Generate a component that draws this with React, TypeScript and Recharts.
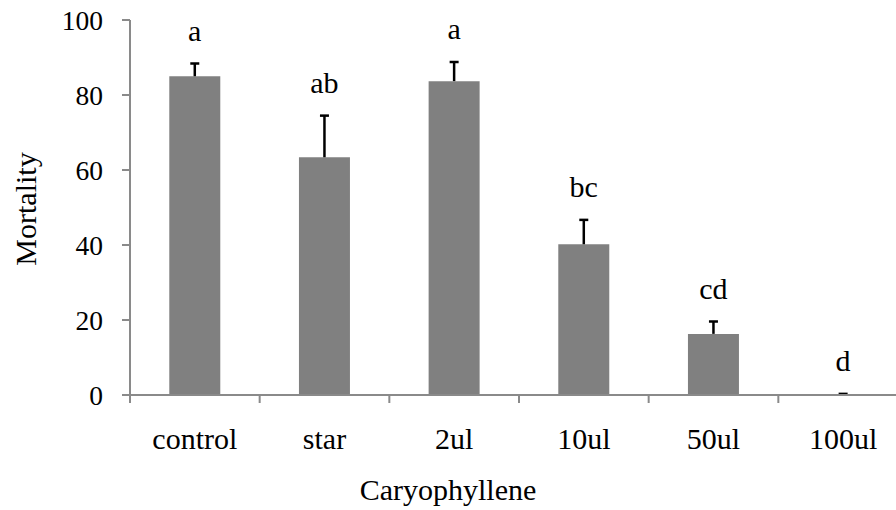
import React from 'react';
import { BarChart, Bar, XAxis, YAxis, LabelList } from 'recharts';

const doses = ['control', 'star', '2ul', '10ul', '50ul', '100ul'];
const mortality = [85, 63.4, 83.7, 40.2, 16.3, 0];
const stdErr = [3.4, 11.1, 5.1, 6.5, 3.3, 0.3];
const letters = ['a', 'ab', 'a', 'bc', 'cd', 'd'];
const yTicks = [0, 20, 40, 60, 80, 100];

const data = doses.map((dose, i) => ({
  dose,
  mortality: mortality[i],
  err: stdErr[i],
  letter: letters[i],
}));

const FONT = '"Liberation Serif", "Times New Roman", serif';
const AXIS_GREY = '#8a8a8a';

// upper-only error bar: stem from bar top plus a cap at the end
const ErrShape = (props: any) => {
  const { x, y, width, height } = props;
  const cx = x + width / 2;
  return (
    <g>
      <line x1={cx} y1={y + height} x2={cx} y2={y} stroke='#000' strokeWidth={2.5} />
      <line x1={cx - 4.5} y1={y} x2={cx + 4.5} y2={y} stroke='#000' strokeWidth={2.5} />
    </g>
  );
};

// category label plus Excel-style tick marks on the category boundaries
const DoseTick = (props: any) => {
  const { x, y, payload, index, visibleTicksCount } = props;
  const half = payload.offset || 0;
  const last = index === (visibleTicksCount ?? doses.length) - 1;
  return (
    <g>
      <line x1={x - half} y1={y} x2={x - half} y2={y + 8} stroke={AXIS_GREY} strokeWidth={2} />
      {last && (
        <line x1={x + half} y1={y} x2={x + half} y2={y + 8} stroke={AXIS_GREY} strokeWidth={2} />
      )}
      <text x={x} y={y + 54} textAnchor='middle' fill='#000' fontSize={30} fontFamily={FONT}>
        {payload.value}
      </text>
    </g>
  );
};

const App: React.FC = () => {
  return (
    <div
      style={{
        position: 'fixed',
        left: 0,
        top: 0,
        width: 896,
        height: 510,
        overflow: 'hidden',
        background: '#fff',
        fontFamily: FONT,
      }}
    >
      <BarChart
        width={910}
        height={510}
        data={data}
        margin={{ top: 20, right: 2, bottom: 0, left: 0 }}
        barCategoryGap='30.3%'
      >
        <XAxis
          dataKey='dose'
          height={115}
          axisLine={{ stroke: AXIS_GREY, strokeWidth: 2 }}
          tickLine={false}
          tickSize={0}
          tickMargin={0}
          tick={<DoseTick />}
          interval={0}
          label={{
            content: () => (
              <text
                x={448}
                y={500}
                textAnchor='middle'
                fill='#000'
                fontSize={30}
                fontFamily={FONT}
              >
                Caryophyllene
              </text>
            ),
          }}
        />
        <YAxis
          width={130}
          domain={[0, 100]}
          ticks={yTicks}
          interval={0}
          tickSize={8}
          tickMargin={19}
          axisLine={{ stroke: AXIS_GREY, strokeWidth: 2 }}
          tickLine={{ stroke: AXIS_GREY, strokeWidth: 2 }}
          tick={{ fill: '#000', fontSize: 27.5, fontFamily: FONT }}
          label={{
            content: ({ viewBox }: any) => {
              const cy = viewBox.y + viewBox.height / 2 + 1.5;
              return (
                <text
                  x={25}
                  y={cy}
                  transform={`rotate(-90, 25, ${cy})`}
                  textAnchor='middle'
                  dominantBaseline='central'
                  fill='#000'
                  fontSize={30}
                  fontFamily={FONT}
                >
                  Mortality
                </text>
              );
            },
          }}
        />
        <Bar
          dataKey='mortality'
          stackId='m'
          fill='#808080'
          isAnimationActive={false}
        />
        <Bar
          dataKey='err'
          stackId='m'
          shape={<ErrShape />}
          isAnimationActive={false}
        >
          <LabelList
            dataKey='letter'
            position='top'
            offset={23}
            fill='#000'
            fontSize={30}
            fontFamily={FONT}
          />
        </Bar>
      </BarChart>
    </div>
  );
};

export default App;
